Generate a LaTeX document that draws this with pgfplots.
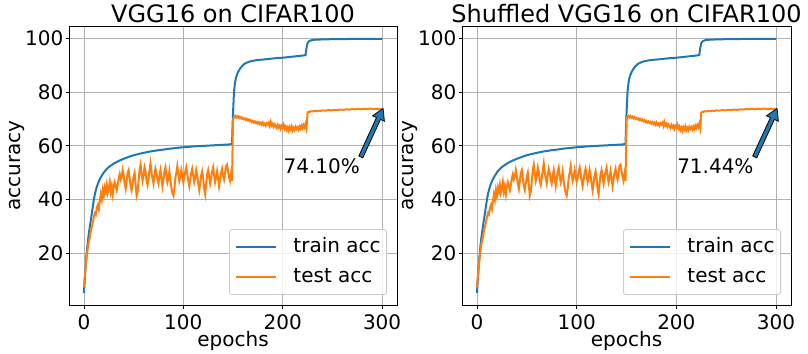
\documentclass[border=0pt]{standalone}
\usepackage{fontspec}
\setmainfont{DejaVu Sans}
\usepackage{pgfplots}
\pgfplotsset{compat=1.18}
\usepackage{pgfplotstable}
\usetikzlibrary{calc}
\definecolor{tabblue}{HTML}{1F77B4}
\definecolor{taborange}{HTML}{FF7F0E}
\definecolor{gridgray}{HTML}{B0B0B0}
\definecolor{legendgray}{HTML}{CCCCCC}

\pgfplotstableread{
x y
0 5.2
1 11
2 16.5
3 21
4 24.5
5 27.5
6 30
7 32.5
8 35
9 37.5
10 40
11 42
12 43.5
13 44.8
14 45.9
15 46.8
16 47.6
17 48.3
18 48.9
19 49.5
20 50.1
22 51
24 51.8
26 52.4
28 52.9
30 53.4
35 54.4
40 55.2
45 55.9
50 56.5
55 57
60 57.4
65 57.8
70 58.1
75 58.4
80 58.6
85 58.9
90 59.1
95 59.3
100 59.5
105 59.6
110 59.8
115 59.9
120 60.0
125 60.1
130 60.2
135 60.3
140 60.4
145 60.5
149 60.7
150 72
151 80
152 83.5
153 85.3
154 86.5
155 87.4
157 88.7
159 89.6
161 90.4
164 91
168 91.5
172 91.8
176 92
180 92.1
185 92.3
190 92.5
195 92.7
200 92.8
205 93
210 93.2
215 93.4
220 93.6
223 93.8
224 96.5
225 98.2
226 98.8
228 99.2
230 99.4
233 99.5
236 99.55
240 99.6
250 99.7
260 99.75
280 99.8
300 99.82
}\traindata

\pgfplotstableread{
x y
0 7.5
1 12
2 16
3 19.5
4 22.5
5 24.5
6 26
7 28.5
8 30
9 31.5
10 33.5
11 35
12 34.5
13 37
14 38
15 36.5
16 39.5
17 42
18 40
19 43.5
20 41.5
21 44.5
22 43
23 45.5
24 42.5
25 44
26 46.5
27 43
28 45
29 42
30 45
31 46.5
32 45
33 43.5
34 45.5
35 48
36 49.5
37 47.5
38 48.5
39 51
40 49
41 46
42 44
43 47
44 50
45 51
46 48
47 45
48 43.5
49 46
50 48.5
51 50
52 45.5
53 41.5
54 43
55 47
56 51
57 53
58 49.5
59 47
60 49
61 52
62 50.5
63 47
64 45.5
65 48
66 51
67 53.5
68 50
69 48
70 46
71 49
72 51.5
73 50
74 47.5
75 46
76 49
77 51
78 48
79 45
80 47.5
81 50.5
82 52
83 49
84 46.5
85 48
86 50.5
87 47
88 44.5
89 42.5
90 41.5
91 44
92 48
93 50
94 52.5
95 49.5
96 47
97 48.5
98 51
99 49
100 46.5
101 48
102 50.5
103 52
104 49.5
105 47
106 45
107 47.5
108 50
109 51.5
110 49
111 46.5
112 48
113 51
114 49
115 46
116 43.5
117 46
118 49
119 50.5
120 48
121 44
122 42
123 46
124 49.5
125 51
126 48.5
127 46
128 48
129 50.5
130 52
131 49
132 46.5
133 48
134 50.5
135 48
136 45
137 47.5
138 50
139 51.5
140 49
141 47.5
142 50
143 52.5
144 53
145 50.5
146 48.5
147 47
148 49.5
149 47
150 69.5
151 70.8
152 71.2
153 70.6
154 71.1
155 70.5
156 70.9
157 70.3
158 70.7
159 70.1
160 70.4
161 69.9
162 70.2
163 69.6
164 70.0
165 69.4
166 69.8
167 69.2
168 69.6
169 68.9
170 69.3
171 68.7
172 69.1
173 68.5
174 68.9
175 68.3
176 68.8
177 68.1
178 68.6
179 67.9
180 68.7
181 67.8
182 68.3
183 67.5
184 68.4
185 67.9
186 68.6
187 67.4
188 68.9
189 67.6
190 68.2
191 67.1
192 68.0
193 67.3
194 66.6
195 67.8
196 66.9
197 67.5
198 66.3
199 67.4
200 66.8
201 67.9
202 66.4
203 67.2
204 65.9
205 66.8
206 65.6
207 67.0
208 66.2
209 67.3
210 65.8
211 66.7
212 65.9
213 67.1
214 66.3
215 66.9
216 66.0
217 67.2
218 66.4
219 67.5
220 66.6
221 67.8
222 66.9
223 68.2
224 66.5
225 72.3
226 72.7
227 72.6
228 72.9
230 72.8
232 73.0
234 72.9
236 73.1
238 73.0
240 73.2
243 73.1
246 73.3
249 73.2
252 73.4
255 73.3
258 73.5
261 73.4
264 73.6
267 73.5
270 73.7
273 73.6
276 73.8
279 73.6
282 73.8
285 73.7
288 73.9
291 73.7
294 73.8
297 73.7
300 73.8
}\testdata

\newcommand{\fsz}{\fontsize{20bp}{24bp}\selectfont}
\tikzset{annarrow/.style={fill=tabblue, draw=black, line width=0.8bp, line join=miter}}
\pgfplotsset{
  myaxis/.style={
    scale only axis, height=279bp,
    xmin=-15, xmax=315, ymin=0.8, ymax=104.6,
    xtick={0,100,200,300}, ytick={20,40,60,80,100},
    grid=major, major grid style={gridgray, line width=0.8bp},
    axis line style={black, line width=0.8bp},
    tick style={black, line width=0.8bp},
    tick align=outside, major tick length=3.5bp, tick pos=left,
    font=\fsz,
    tick label style={font=\fsz},
    /pgf/number format/assume math mode=true,
    xticklabel style={anchor=base, yshift=-21bp},
    yticklabel style={anchor=east, inner xsep=0pt, xshift=-2bp},
    xlabel=epochs, ylabel=accuracy,
    xlabel style={at={([yshift=-41.5bp]axis description cs:0.5,0)}, anchor=base},
    ylabel style={at={([xshift=-48.7bp]axis description cs:0,0.5)}, anchor=base},
    every axis title shift=0pt,
    title style={at={([yshift=3.3bp]axis description cs:0.5,1)}, anchor=base, font=\fontsize{24bp}{28bp}\selectfont},
    legend style={at={([xshift=-10bp,yshift=10bp]rel axis cs:1,0)}, anchor=south east,
      draw=legendgray, line width=0.8bp, rounded corners=2.5bp, fill=white,
      fill opacity=0.8, text opacity=1, draw opacity=1, font=\fsz,
      inner xsep=6bp, inner ysep=8bp, row sep=11bp,
      nodes={inner sep=0pt, text height=15bp, text depth=4bp}},
    legend cell align=left,
    /tikz/every odd column/.append style={column sep=16bp},
    legend image code/.code={\draw[#1] (0bp,0bp) -- (40bp,0bp);},
  },
}

\begin{document}
\begin{tikzpicture}
\path[use as bounding box] (0,0) rectangle (808bp,354bp);
\begin{axis}[myaxis, at={(69bp,49bp)}, anchor=south west, width=328bp,
  title={VGG16 on CIFAR100}]
\addplot[tabblue, line width=2bp] table[x=x,y=y] {\traindata};
\addlegendentry{train acc}
\addplot[taborange, line width=2bp] table[x=x,y=y] {\testdata};
\addlegendentry{test acc}
\coordinate (T) at (axis cs:301,73.9);
\coordinate (S) at (axis cs:278.6,55.9);
\coordinate (H) at ($(T)!11bp!(S)$);
\filldraw[annarrow]
  ($(S)!2.2bp!90:(T)$) -- ($(H)!2.2bp!90:(T)$) -- ($(H)!6.5bp!90:(T)$) -- (T)
  -- ($(H)!6.5bp!-90:(T)$) -- ($(H)!2.2bp!-90:(T)$) -- ($(S)!2.2bp!-90:(T)$) -- cycle;
\node[anchor=base west, font=\fsz, inner sep=0pt] at (axis cs:200.7,49.9) {74.10\%};
\end{axis}
\begin{axis}[myaxis, at={(462bp,49bp)}, anchor=south west, width=329bp,
  title={Shuffled VGG16 on CIFAR100}]
\addplot[tabblue, line width=2bp] table[x=x,y=y] {\traindata};
\addlegendentry{train acc}
\addplot[taborange, line width=2bp] table[x=x,y=y] {\testdata};
\addlegendentry{test acc}
\coordinate (T) at (axis cs:301,73.9);
\coordinate (S) at (axis cs:278.6,55.9);
\coordinate (H) at ($(T)!11bp!(S)$);
\filldraw[annarrow]
  ($(S)!2.2bp!90:(T)$) -- ($(H)!2.2bp!90:(T)$) -- ($(H)!6.5bp!90:(T)$) -- (T)
  -- ($(H)!6.5bp!-90:(T)$) -- ($(H)!2.2bp!-90:(T)$) -- ($(S)!2.2bp!-90:(T)$) -- cycle;
\node[anchor=base west, font=\fsz, inner sep=0pt] at (axis cs:200.7,49.9) {71.44\%};
\end{axis}
\end{tikzpicture}
\end{document}
